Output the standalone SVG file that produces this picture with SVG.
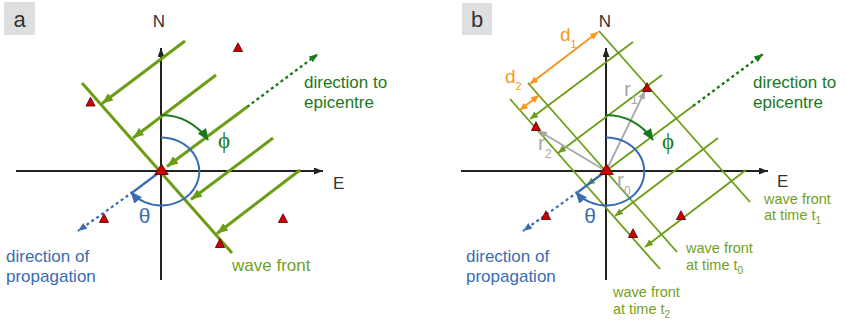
<svg xmlns="http://www.w3.org/2000/svg" width="846" height="320" viewBox="0 0 846 320">
<defs>
<style>
.t{font-family:"Liberation Sans",Arial,sans-serif}
.ax{stroke:#222;stroke-width:2;fill:none}
.lbl{font-size:22px;fill:#333}
.axl{font-size:17px;fill:#333}
.wfa{stroke:#6c9d14;stroke-width:3;fill:none}
.raya{stroke:#6c9d14;stroke-width:3;fill:none;marker-end:url(#ahGA)}
.wfb{stroke:#6c9d14;stroke-width:1.8;fill:none}
.rayb{stroke:#6c9d14;stroke-width:1.8;fill:none;marker-end:url(#ahGB)}
.dot{stroke:#1a7a1a;stroke-width:2.4;stroke-dasharray:3 3;fill:none;marker-end:url(#ahDG)}
.dotb{stroke:#3a6cb4;stroke-width:2.2;stroke-dasharray:3 3;fill:none;marker-end:url(#ahBL)}
.phi{stroke:#1a7a1a;stroke-width:2;fill:none;marker-end:url(#ahDG2)}
.th{stroke:#3a6cb4;stroke-width:2;fill:none;marker-end:url(#ahBL2)}
.blu{stroke:#3a6cb4;stroke-width:2.2;fill:none}
.dg{font-size:17px;fill:#1a7a1a}
.bl{font-size:17px;fill:#3a6cb4}
.lg{font-size:17px;fill:#72a21c}
.lgs{font-size:14.5px;fill:#72a21c}
.sub{font-size:10px;fill:#72a21c}
.gr{stroke:#a8a8a8;stroke-width:1.8;fill:none;marker-end:url(#ahGR)}
.grt{font-size:21px;fill:#a8a8a8}
.grs{font-size:12px;fill:#a8a8a8}
.or{stroke:#f7981d;stroke-width:2;fill:none;marker-end:url(#ahOR);marker-start:url(#ahOR)}
.ort{font-size:19px;fill:#f7981d}
.ors{font-size:11px;fill:#f7981d}
.tri{fill:#cc0000;stroke:#4d0000;stroke-width:0.8}
.phit{font-family:"Liberation Serif","DejaVu Serif",serif;font-size:23px;fill:#1a7a1a}
</style>
<marker id="ahAX" markerUnits="userSpaceOnUse" markerWidth="10" markerHeight="8" refX="9" refY="3.5" orient="auto"><path d="M0,0 L9,3.5 L0,7 z" fill="#222"/></marker>
<marker id="ahGA" markerUnits="userSpaceOnUse" markerWidth="12" markerHeight="10" refX="11" refY="4.5" orient="auto"><path d="M0,0 L11,4.5 L0,9 z" fill="#6c9d14"/></marker>
<marker id="ahGB" markerUnits="userSpaceOnUse" markerWidth="9" markerHeight="8" refX="8" refY="3.5" orient="auto"><path d="M0,0 L8,3.5 L0,7 z" fill="#6c9d14"/></marker>
<marker id="ahDG" markerUnits="userSpaceOnUse" markerWidth="10" markerHeight="8" refX="9" refY="3.5" orient="auto"><path d="M0,0 L9,3.5 L0,7 z" fill="#1a7a1a"/></marker>
<marker id="ahDG2" markerUnits="userSpaceOnUse" markerWidth="13" markerHeight="11" refX="11" refY="5" orient="auto"><path d="M0,0 L12,5 L0,10 z" fill="#1a7a1a"/></marker>
<marker id="ahBL" markerUnits="userSpaceOnUse" markerWidth="10" markerHeight="8" refX="9" refY="3.5" orient="auto"><path d="M0,0 L9,3.5 L0,7 z" fill="#3a6cb4"/></marker>
<marker id="ahBL2" markerUnits="userSpaceOnUse" markerWidth="13" markerHeight="11" refX="11" refY="5" orient="auto"><path d="M0,0 L12,5 L0,10 z" fill="#3a6cb4"/></marker>
<marker id="ahGR" markerUnits="userSpaceOnUse" markerWidth="9" markerHeight="8" refX="8" refY="3.5" orient="auto"><path d="M0,0 L8,3.5 L0,7 z" fill="#a8a8a8"/></marker>
<marker id="ahOR" markerUnits="userSpaceOnUse" markerWidth="9" markerHeight="8" refX="8" refY="3.5" orient="auto-start-reverse"><path d="M0,0 L8,3.5 L0,7 z" fill="#f7981d"/></marker>
<path id="tri" d="M0,-4.7 L4.6,4 L-4.6,4 z"/>
<path id="triB" d="M0,-6.5 L6.8,4 L-6.8,4 z"/>
</defs>

<g id="panel-a">
<g id="label-a"><rect x="4" y="2" width="31" height="33" fill="#dedfe0"/><text class="t lbl" x="19.5" y="27" text-anchor="middle">a</text></g>
<g id="axes-a">
<line class="ax" x1="161" y1="280" x2="161" y2="48" marker-end="url(#ahAX)"/>
<line class="ax" x1="16" y1="171" x2="323" y2="171" marker-end="url(#ahAX)"/>
<text class="t axl" x="159" y="27" text-anchor="middle">N</text>
<text class="t axl" x="333" y="189">E</text>
</g>
<g id="connectors-a">
<line class="wfa" x1="82" y1="83" x2="232" y2="253"/>
<line class="raya" x1="185" y1="41" x2="102" y2="103.5"/>
<line class="raya" x1="216" y1="75" x2="133" y2="138"/>
<line class="raya" x1="247" y1="107" x2="167" y2="166.5"/>
<line class="raya" x1="273" y1="138" x2="191" y2="199.5"/>
<line class="raya" x1="300" y1="170" x2="217" y2="233.5"/>
<line class="dot" x1="247" y1="107" x2="318" y2="54"/>
<path class="phi" d="M161,115 A56,56 0 0 1 208,140"/>
<line class="blu" x1="161" y1="171" x2="133" y2="192"/>
<line class="dotb" x1="133" y1="192" x2="78" y2="231"/>
<path class="th" d="M161,137.5 A38,34 0 1 1 131,192"/>
</g>
<g id="stations-a">
<use href="#tri" class="tri" x="90.5" y="102"/>
<use href="#tri" class="tri" x="238" y="47.5"/>
<use href="#tri" class="tri" x="104" y="218.5"/>
<use href="#tri" class="tri" x="283" y="218.5"/>
<use href="#tri" class="tri" x="220" y="243.5"/>
<use href="#triB" class="tri" x="161.5" y="170.5"/>
</g>
<g id="texts-a">
<text class="t dg" x="304" y="88">direction to</text>
<text class="t dg" x="304" y="107.5">epicentre</text>
<text class="t bl" x="6" y="262">direction of</text>
<text class="t bl" x="6" y="281.5">propagation</text>
<text class="t lg" x="232" y="271">wave front</text>
<text class="phit" x="224" y="148" text-anchor="middle">ϕ</text>
<text class="t" x="144.5" y="223" text-anchor="middle" style="font-size:21px;fill:#3a6cb4">θ</text>
</g>
</g>

<g id="panel-b">
<g id="label-b"><rect x="462" y="3" width="30" height="32" fill="#dedfe0"/><text class="t lbl" x="477" y="27" text-anchor="middle">b</text></g>
<g id="axes-b">
<line class="ax" x1="606" y1="280" x2="606" y2="48" marker-end="url(#ahAX)"/>
<line class="ax" x1="461" y1="171" x2="768" y2="171" marker-end="url(#ahAX)"/>
<text class="t axl" x="605" y="27" text-anchor="middle">N</text>
<text class="t axl" x="777" y="187">E</text>
</g>
<g id="connectors-b">
<line class="wfb" x1="599" y1="31" x2="750" y2="202"/>
<line class="wfb" x1="528" y1="83" x2="677" y2="252"/>
<line class="wfb" x1="510" y1="99" x2="660" y2="269"/>
<line class="rayb" x1="633" y1="42" x2="530" y2="119"/>
<line class="rayb" x1="662" y1="75" x2="558" y2="153"/>
<line class="rayb" x1="693" y1="106" x2="587" y2="185"/>
<line class="rayb" x1="718" y1="138" x2="615" y2="216"/>
<line class="rayb" x1="746" y1="170" x2="645" y2="247"/>
<line class="dot" x1="693" y1="106" x2="763" y2="54"/>
<line class="or" x1="598" y1="32" x2="530" y2="84"/>
<line class="or" x1="539" y1="95.3" x2="519.6" y2="110.3"/>
<line class="gr" x1="606" y1="171" x2="645" y2="91"/>
<line class="gr" x1="606" y1="171" x2="539" y2="131"/>
<path class="phi" d="M606,115 A56,56 0 0 1 653,140"/>
<line class="blu" x1="606" y1="171" x2="578" y2="192"/>
<line class="dotb" x1="578" y1="192" x2="523" y2="231"/>
<path class="th" d="M606,137.5 A38,34 0 1 1 576,192"/>
</g>
<g id="stations-b">
<use href="#tri" class="tri" x="647" y="87.5"/>
<use href="#tri" class="tri" x="536" y="126.5"/>
<use href="#tri" class="tri" x="546" y="215.5"/>
<use href="#tri" class="tri" x="633" y="233.5"/>
<use href="#tri" class="tri" x="681" y="215.5"/>
<use href="#triB" class="tri" x="606.5" y="170.5"/>
</g>
<g id="texts-b">
<text class="t dg" x="753" y="88">direction to</text>
<text class="t dg" x="753" y="107.5">epicentre</text>
<text class="t bl" x="466" y="262">direction of</text>
<text class="t bl" x="466" y="281.5">propagation</text>
<text class="t lgs" x="764" y="204">wave front</text>
<text class="t lgs" x="764" y="220">at time t<tspan class="sub" dy="4">1</tspan></text>
<text class="t lgs" x="686" y="253">wave front</text>
<text class="t lgs" x="686" y="269.5">at time t<tspan class="sub" dy="4">0</tspan></text>
<text class="t lgs" x="613" y="297">wave front</text>
<text class="t lgs" x="613" y="313.5">at time t<tspan class="sub" dy="4">2</tspan></text>
<text class="t ort" x="560" y="41">d<tspan class="ors" dy="7">1</tspan></text>
<text class="t ort" x="505" y="83">d<tspan class="ors" dy="7">2</tspan></text>
<text class="t grt" x="624" y="96">r<tspan class="grs" dy="8">1</tspan></text>
<text class="t grt" x="538" y="150">r<tspan class="grs" dy="8">2</tspan></text>
<text class="t grt" x="617" y="187">r<tspan class="grs" dy="8">0</tspan></text>
<text class="phit" x="668" y="149" text-anchor="middle">ϕ</text>
<text class="t" x="590" y="223" text-anchor="middle" style="font-size:21px;fill:#3a6cb4">θ</text>
</g>
</g>
</svg>
